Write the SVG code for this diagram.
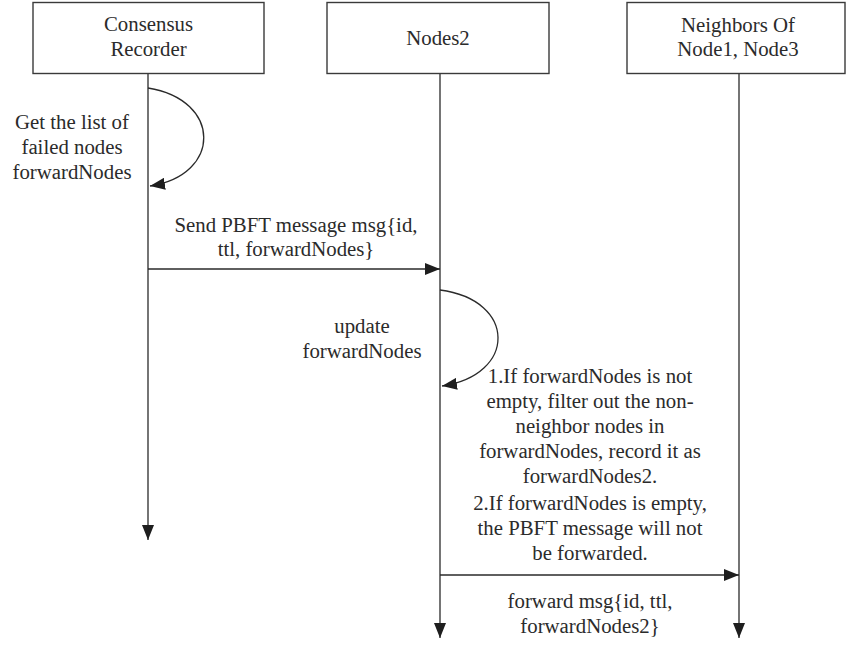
<svg xmlns="http://www.w3.org/2000/svg" width="846" height="646" viewBox="0 0 846 646">
  <defs>
    <style>
      .box { fill: #ffffff; stroke: #3a3a3a; stroke-width: 1.4; }
      .life { fill: none; stroke: #3a3a3a; stroke-width: 1.4; }
      .msg { fill: none; stroke: #2a2a2a; stroke-width: 1.3; }
      text { font-family: "Liberation Serif", "Times New Roman", serif; font-size: 20.8px; fill: #2b2b2b; text-anchor: middle; }
    </style>
    <marker id="arrow" markerUnits="userSpaceOnUse" markerWidth="16" markerHeight="12" refX="15" refY="6" orient="auto">
      <path d="M0,0 L15,6 L0,12 z" fill="#1e1e1e"/>
    </marker>
  </defs>
  <rect width="846" height="646" fill="#ffffff"/>

  <!-- lifeline heads -->
  <g id="consensus-recorder">
    <rect class="box" x="33" y="2.5" width="231" height="71"/>
    <text x="148.5" y="31">Consensus</text>
    <text x="148.5" y="56">Recorder</text>
  </g>
  <g id="nodes2">
    <rect class="box" x="327" y="2.5" width="222" height="71"/>
    <text x="438" y="45">Nodes2</text>
  </g>
  <g id="neighbors">
    <rect class="box" x="627" y="2.5" width="218" height="71"/>
    <text x="738" y="32">Neighbors Of</text>
    <text x="738" y="56">Node1, Node3</text>
  </g>

  <!-- lifelines and messages -->
  <g id="connectors">
    <line class="life" x1="148" y1="73.5" x2="148" y2="540" marker-end="url(#arrow)"/>
    <line class="life" x1="440" y1="73.5" x2="440" y2="638" marker-end="url(#arrow)"/>
    <line class="life" x1="739" y1="73.5" x2="739" y2="638" marker-end="url(#arrow)"/>

    <path class="msg" d="M148,88 C222,100 222,175 150,186" marker-end="url(#arrow)"/>
    <line class="msg" x1="148" y1="269" x2="440" y2="269" marker-end="url(#arrow)"/>
    <path class="msg" d="M440,290 C517,300 517,375 442,386" marker-end="url(#arrow)"/>
    <line class="msg" x1="440" y1="575" x2="739" y2="575" marker-end="url(#arrow)"/>
  </g>

  <!-- message labels -->
  <g id="labels">
    <text x="72" y="129">Get the list of</text>
    <text x="72" y="154">failed nodes</text>
    <text x="72" y="179">forwardNodes</text>

    <text x="296" y="232">Send PBFT message msg{id,</text>
    <text x="296" y="256">ttl, forwardNodes}</text>

    <text x="362" y="333">update</text>
    <text x="362" y="358">forwardNodes</text>

    <text x="590" y="383">1.If forwardNodes is not</text>
    <text x="590" y="408">empty, filter out the non-</text>
    <text x="590" y="433">neighbor nodes in</text>
    <text x="590" y="458">forwardNodes, record it as</text>
    <text x="590" y="483">forwardNodes2.</text>
    <text x="590" y="510">2.If forwardNodes is empty,</text>
    <text x="590" y="535">the PBFT message will not</text>
    <text x="590" y="560">be forwarded.</text>

    <text x="590" y="608">forward msg{id, ttl,</text>
    <text x="590" y="633">forwardNodes2}</text>
  </g>
</svg>
